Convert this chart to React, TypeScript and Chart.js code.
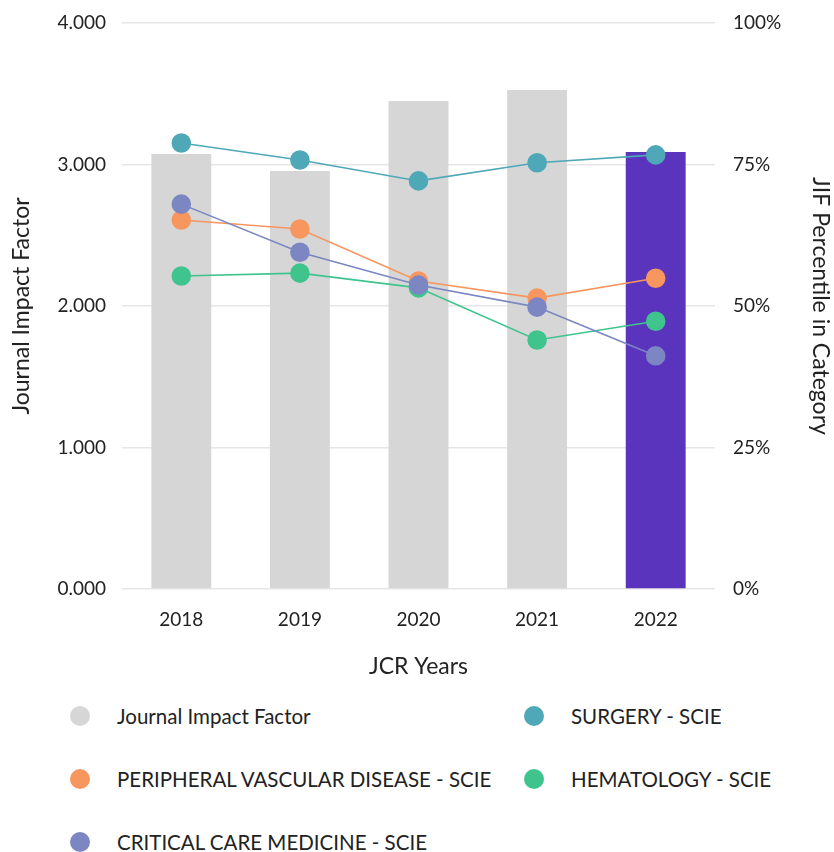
import React, { useEffect, useRef } from 'react';
import { Chart, registerables } from 'chart.js';

Chart.register(...registerables);

const years = ['2018', '2019', '2020', '2021', '2022'];
const jif = [3.074, 2.954, 3.449, 3.527, 3.088];
const surgery = [78.8, 75.8, 72.1, 75.3, 76.7];
const pvd = [65.2, 63.6, 54.4, 51.4, 54.9];
const hematology = [55.3, 55.8, 53.2, 44.0, 47.3];
const critical = [68.0, 59.5, 53.7, 49.8, 41.2];

const seriesNames = [
  'Journal Impact Factor',
  'SURGERY - SCIE',
  'PERIPHERAL VASCULAR DISEASE - SCIE',
  'HEMATOLOGY - SCIE',
  'CRITICAL CARE MEDICINE - SCIE',
];

const GRAY = '#d6d6d6';
const PURPLE = '#5b34bd';
const C_SURG = '#4fa8b8';
const C_PVD = '#f7965f';
const C_HEM = '#3fc48d';
const C_CRIT = '#7b86c2';

const FONT = 'Lato, "Noto Sans", sans-serif';

export default function App() {
  const ref = useRef<HTMLCanvasElement | null>(null);

  useEffect(() => {
    document.body.style.margin = '0';
    const ctx = ref.current!;
    const lineDs = (label: string, data: number[], color: string, order: number) => ({
      type: 'line' as const,
      label,
      data,
      yAxisID: 'y1',
      borderColor: color,
      backgroundColor: color,
      pointBackgroundColor: color,
      pointBorderColor: color,
      pointRadius: 9,
      pointHoverRadius: 9,
      borderWidth: 1.6,
      tension: 0,
      order,
    });
    const chart = new Chart(ctx, {
      type: 'bar',
      data: {
        labels: years,
        datasets: [
          {
            type: 'bar',
            label: seriesNames[0],
            data: jif,
            yAxisID: 'y',
            backgroundColor: years.map((_, i) => (i === years.length - 1 ? PURPLE : GRAY)),
            barPercentage: 0.505,
            categoryPercentage: 1,
            order: 10,
          } as any,
          lineDs(seriesNames[3], hematology, C_HEM, 4),
          lineDs(seriesNames[1], surgery, C_SURG, 3),
          lineDs(seriesNames[2], pvd, C_PVD, 2),
          lineDs(seriesNames[4], critical, C_CRIT, 1),
        ],
      },
      options: {
        responsive: false,
        animation: false,
        layout: { padding: { top: 23, left: 4, right: 0, bottom: 0 } },
        plugins: { legend: { display: false }, tooltip: { enabled: false } },
        scales: {
          x: {
            grid: { display: false, drawTicks: false },
            border: { display: false },
            ticks: { color: '#222', font: { family: FONT, size: 19 }, padding: 19 },
            title: {
              display: true,
              text: 'JCR Years',
              color: '#222',
              font: { family: FONT, size: 23 },
              padding: { top: 6, bottom: 10 },
            },
            afterFit: (s: any) => {
              s.height = 101;
            },
          },
          y: {
            position: 'left',
            min: 0,
            max: 4,
            ticks: {
              stepSize: 1,
              color: '#222',
              padding: 16,
              font: { family: FONT, size: 19 },
              callback: (v: any) => Number(v).toFixed(3),
            },
            grid: { color: '#e6e6e6', lineWidth: 1.5, drawTicks: false },
            border: { display: false },
            title: {
              display: true,
              text: 'Journal Impact Factor',
              color: '#222',
              font: { family: FONT, size: 23 },
            },
            afterFit: (s: any) => {
              s.width = 118;
              s.paddingTop = 0;
              s.paddingBottom = 0;
            },
          },
          y1: {
            position: 'right',
            min: 0,
            max: 100,
            ticks: {
              stepSize: 25,
              color: '#222',
              padding: 18,
              font: { family: FONT, size: 19 },
              callback: (v: any) => v + '%',
            },
            grid: { display: false, drawTicks: false },
            border: { display: false },
            title: {
              display: true,
              text: 'JIF Percentile in Category',
              color: '#222',
              font: { family: FONT, size: 23 },
              padding: { top: 0, bottom: 0 },
            },
            afterFit: (s: any) => {
              s.width = 119;
              s.paddingTop = 0;
              s.paddingBottom = 0;
            },
          },
        },
      },
    });
    return () => chart.destroy();
  }, []);

  const legendItems = [
    { name: seriesNames[0], color: GRAY, col: 0, row: 0 },
    { name: seriesNames[1], color: C_SURG, col: 1, row: 0 },
    { name: seriesNames[2], color: C_PVD, col: 0, row: 1 },
    { name: seriesNames[3], color: C_HEM, col: 1, row: 1 },
    { name: seriesNames[4], color: C_CRIT, col: 0, row: 2 },
  ];
  const colX = [80, 534];
  const rowY = [716, 779, 842];

  return (
    <div style={{ position: 'relative', width: 834, height: 852, overflow: 'hidden', background: '#fff' }}>
      <canvas ref={ref} width={834} height={690} style={{ display: 'block', width: 834, height: 690 }} />
      {legendItems.map((it) => (
        <div
          key={it.name}
          style={{
            position: 'absolute',
            left: colX[it.col] - 10,
            top: rowY[it.row] - 14,
            height: 28,
            display: 'flex',
            alignItems: 'center',
            whiteSpace: 'nowrap',
            fontFamily: FONT,
            fontSize: 20.5,
            color: '#222',
          }}
        >
          <span
            style={{
              display: 'inline-block',
              width: 20,
              height: 20,
              borderRadius: '50%',
              background: it.color,
              marginRight: 27,
              flex: 'none',
            }}
          />
          <span>{it.name}</span>
        </div>
      ))}
    </div>
  );
}
